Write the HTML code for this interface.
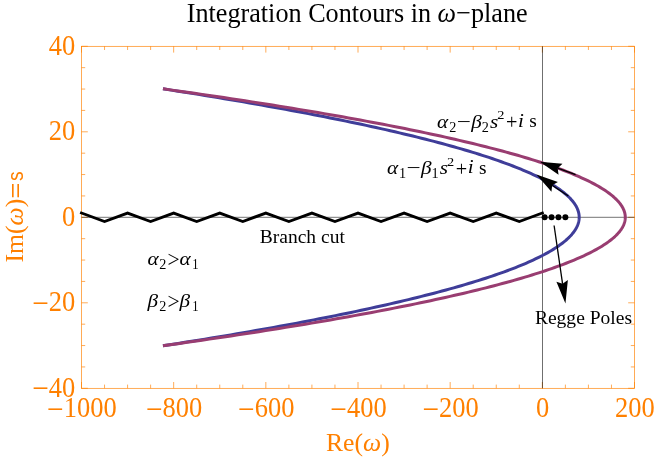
<!DOCTYPE html>
<html><head><meta charset="utf-8"><title>Integration Contours</title>
<style>
html,body{margin:0;padding:0;background:#fff;}
svg{display:block;font-family:"Liberation Serif",serif;will-change:transform;}
</style></head><body>
<svg width="654" height="457" viewBox="0 0 654 457">
<rect width="654" height="457" fill="#fff"/>
<rect x="81.5" y="46.3" width="553" height="342" fill="none" stroke="#ff8000" stroke-width="0.66"/>
<path d="M81.5 388.3v-6.3M81.5 46.3v6.3M104.54 388.3v-3.7M104.54 46.3v3.7M127.58 388.3v-3.7M127.58 46.3v3.7M150.62 388.3v-3.7M150.62 46.3v3.7M173.67 388.3v-6.3M173.67 46.3v6.3M196.71 388.3v-3.7M196.71 46.3v3.7M219.75 388.3v-3.7M219.75 46.3v3.7M242.79 388.3v-3.7M242.79 46.3v3.7M265.83 388.3v-6.3M265.83 46.3v6.3M288.88 388.3v-3.7M288.88 46.3v3.7M311.92 388.3v-3.7M311.92 46.3v3.7M334.96 388.3v-3.7M334.96 46.3v3.7M358 388.3v-6.3M358 46.3v6.3M381.04 388.3v-3.7M381.04 46.3v3.7M404.08 388.3v-3.7M404.08 46.3v3.7M427.12 388.3v-3.7M427.12 46.3v3.7M450.17 388.3v-6.3M450.17 46.3v6.3M473.21 388.3v-3.7M473.21 46.3v3.7M496.25 388.3v-3.7M496.25 46.3v3.7M519.29 388.3v-3.7M519.29 46.3v3.7M542.33 388.3v-6.3M542.33 46.3v6.3M565.38 388.3v-3.7M565.38 46.3v3.7M588.42 388.3v-3.7M588.42 46.3v3.7M611.46 388.3v-3.7M611.46 46.3v3.7M634.5 388.3v-6.3M634.5 46.3v6.3M81.5 388.3h6.3M634.5 388.3h-6.3M81.5 366.93h3.7M634.5 366.93h-3.7M81.5 345.55h3.7M634.5 345.55h-3.7M81.5 324.18h3.7M634.5 324.18h-3.7M81.5 302.8h6.3M634.5 302.8h-6.3M81.5 281.43h3.7M634.5 281.43h-3.7M81.5 260.05h3.7M634.5 260.05h-3.7M81.5 238.68h3.7M634.5 238.68h-3.7M81.5 217.3h6.3M634.5 217.3h-6.3M81.5 195.93h3.7M634.5 195.93h-3.7M81.5 174.55h3.7M634.5 174.55h-3.7M81.5 153.18h3.7M634.5 153.18h-3.7M81.5 131.8h6.3M634.5 131.8h-6.3M81.5 110.42h3.7M634.5 110.42h-3.7M81.5 89.05h3.7M634.5 89.05h-3.7M81.5 67.67h3.7M634.5 67.67h-3.7M81.5 46.3h6.3M634.5 46.3h-6.3" fill="none" stroke="#ff8000" stroke-width="0.66"/>
<line x1="81.5" y1="217.3" x2="634.5" y2="217.3" stroke="#000" stroke-width="0.55"/>
<line x1="542.5" y1="46.3" x2="542.5" y2="388.3" stroke="#000" stroke-width="0.57"/>
<path d="M164.45 345.55 L171.33 344.48 L178.16 343.41 L184.93 342.34 L191.64 341.28 L198.29 340.21 L204.89 339.14 L211.43 338.07 L217.91 337 L224.33 335.93 L230.69 334.86 L237 333.79 L243.25 332.73 L249.44 331.66 L255.58 330.59 L261.66 329.52 L267.68 328.45 L273.64 327.38 L279.54 326.31 L285.39 325.24 L291.18 324.18 L296.91 323.11 L302.58 322.04 L308.2 320.97 L313.76 319.9 L319.26 318.83 L324.7 317.76 L330.09 316.69 L335.42 315.62 L340.69 314.56 L345.9 313.49 L351.06 312.42 L356.16 311.35 L361.2 310.28 L366.18 309.21 L371.1 308.14 L375.97 307.07 L380.78 306.01 L385.53 304.94 L390.23 303.87 L394.87 302.8 L399.45 301.73 L403.97 300.66 L408.43 299.59 L412.84 298.53 L417.19 297.46 L421.48 296.39 L425.71 295.32 L429.89 294.25 L434.01 293.18 L438.07 292.11 L442.07 291.04 L446.02 289.98 L449.91 288.91 L453.74 287.84 L457.51 286.77 L461.23 285.7 L464.88 284.63 L468.48 283.56 L472.03 282.49 L475.51 281.43 L478.94 280.36 L482.31 279.29 L485.62 278.22 L488.88 277.15 L492.07 276.08 L495.21 275.01 L498.29 273.94 L501.32 272.88 L504.29 271.81 L507.19 270.74 L510.05 269.67 L512.84 268.6 L515.58 267.53 L518.25 266.46 L520.88 265.39 L523.44 264.32 L525.94 263.26 L528.39 262.19 L530.78 261.12 L533.12 260.05 L535.39 258.98 L537.61 257.91 L539.77 256.84 L541.87 255.78 L543.92 254.71 L545.9 253.64 L547.83 252.57 L549.71 251.5 L551.52 250.43 L553.28 249.36 L554.98 248.29 L556.62 247.23 L558.2 246.16 L559.73 245.09 L561.2 244.02 L562.61 242.95 L563.96 241.88 L565.26 240.81 L566.5 239.74 L567.68 238.68 L568.8 237.61 L569.87 236.54 L570.88 235.47 L571.83 234.4 L572.72 233.33 L573.55 232.26 L574.33 231.19 L575.05 230.12 L575.71 229.06 L576.32 227.99 L576.87 226.92 L577.36 225.85 L577.79 224.78 L578.16 223.71 L578.48 222.64 L578.74 221.57 L578.94 220.51 L579.08 219.44 L579.17 218.37 L579.2 217.3 L579.17 216.23 L579.08 215.16 L578.94 214.09 L578.74 213.02 L578.48 211.96 L578.16 210.89 L577.79 209.82 L577.36 208.75 L576.87 207.68 L576.32 206.61 L575.71 205.54 L575.05 204.48 L574.33 203.41 L573.55 202.34 L572.72 201.27 L571.83 200.2 L570.88 199.13 L569.87 198.06 L568.8 196.99 L567.68 195.93 L566.5 194.86 L565.26 193.79 L563.96 192.72 L562.61 191.65 L561.2 190.58 L559.73 189.51 L558.2 188.44 L556.62 187.38 L554.98 186.31 L553.28 185.24 L551.52 184.17 L549.71 183.1 L547.83 182.03 L545.9 180.96 L543.92 179.89 L541.87 178.82 L539.77 177.76 L537.61 176.69 L535.39 175.62 L533.12 174.55 L530.78 173.48 L528.39 172.41 L525.94 171.34 L523.44 170.27 L520.88 169.21 L518.25 168.14 L515.58 167.07 L512.84 166 L510.05 164.93 L507.19 163.86 L504.29 162.79 L501.32 161.73 L498.29 160.66 L495.21 159.59 L492.07 158.52 L488.88 157.45 L485.62 156.38 L482.31 155.31 L478.94 154.24 L475.51 153.18 L472.03 152.11 L468.48 151.04 L464.88 149.97 L461.23 148.9 L457.51 147.83 L453.74 146.76 L449.91 145.69 L446.02 144.62 L442.07 143.56 L438.07 142.49 L434.01 141.42 L429.89 140.35 L425.71 139.28 L421.48 138.21 L417.19 137.14 L412.84 136.07 L408.43 135.01 L403.97 133.94 L399.45 132.87 L394.87 131.8 L390.23 130.73 L385.53 129.66 L380.78 128.59 L375.97 127.52 L371.1 126.46 L366.18 125.39 L361.2 124.32 L356.16 123.25 L351.06 122.18 L345.9 121.11 L340.69 120.04 L335.42 118.97 L330.09 117.91 L324.7 116.84 L319.26 115.77 L313.76 114.7 L308.2 113.63 L302.58 112.56 L296.91 111.49 L291.18 110.42 L285.39 109.36 L279.54 108.29 L273.64 107.22 L267.68 106.15 L261.66 105.08 L255.58 104.01 L249.44 102.94 L243.25 101.88 L237 100.81 L230.69 99.74 L224.33 98.67 L217.91 97.6 L211.43 96.53 L204.89 95.46 L198.29 94.39 L191.64 93.33 L184.93 92.26 L178.16 91.19 L171.33 90.12 L164.45 89.05" fill="none" stroke="#3f3d99" stroke-width="3.0" stroke-linejoin="round" stroke-linecap="square"/>
<path d="M164.45 345.55 L172.1 344.48 L179.68 343.41 L187.2 342.34 L194.66 341.28 L202.05 340.21 L209.38 339.14 L216.65 338.07 L223.85 337 L230.98 335.93 L238.06 334.86 L245.06 333.79 L252.01 332.73 L258.89 331.66 L265.71 330.59 L272.46 329.52 L279.15 328.45 L285.77 327.38 L292.33 326.31 L298.83 325.24 L305.26 324.18 L311.63 323.11 L317.93 322.04 L324.17 320.97 L330.35 319.9 L336.46 318.83 L342.51 317.76 L348.5 316.69 L354.42 315.62 L360.27 314.56 L366.06 313.49 L371.79 312.42 L377.46 311.35 L383.06 310.28 L388.59 309.21 L394.07 308.14 L399.47 307.07 L404.82 306.01 L410.1 304.94 L415.32 303.87 L420.47 302.8 L425.56 301.73 L430.58 300.66 L435.54 299.59 L440.44 298.53 L445.27 297.46 L450.04 296.39 L454.74 295.32 L459.38 294.25 L463.96 293.18 L468.47 292.11 L472.92 291.04 L477.3 289.98 L481.62 288.91 L485.88 287.84 L490.07 286.77 L494.2 285.7 L498.27 284.63 L502.27 283.56 L506.2 282.49 L510.07 281.43 L513.88 280.36 L517.63 279.29 L521.31 278.22 L524.92 277.15 L528.48 276.08 L531.96 275.01 L535.39 273.94 L538.75 272.88 L542.05 271.81 L545.28 270.74 L548.45 269.67 L551.55 268.6 L554.59 267.53 L557.57 266.46 L560.48 265.39 L563.33 264.32 L566.11 263.26 L568.83 262.19 L571.49 261.12 L574.08 260.05 L576.61 258.98 L579.07 257.91 L581.47 256.84 L583.81 255.78 L586.08 254.71 L588.29 253.64 L590.43 252.57 L592.51 251.5 L594.53 250.43 L596.48 249.36 L598.37 248.29 L600.19 247.23 L601.95 246.16 L603.65 245.09 L605.28 244.02 L606.85 242.95 L608.35 241.88 L609.79 240.81 L611.17 239.74 L612.48 238.68 L613.73 237.61 L614.91 236.54 L616.03 235.47 L617.09 234.4 L618.08 233.33 L619.01 232.26 L619.87 231.19 L620.67 230.12 L621.41 229.06 L622.08 227.99 L622.69 226.92 L623.24 225.85 L623.72 224.78 L624.13 223.71 L624.48 222.64 L624.77 221.57 L625 220.51 L625.16 219.44 L625.25 218.37 L625.28 217.3 L625.25 216.23 L625.16 215.16 L625 214.09 L624.77 213.02 L624.48 211.96 L624.13 210.89 L623.72 209.82 L623.24 208.75 L622.69 207.68 L622.08 206.61 L621.41 205.54 L620.67 204.48 L619.87 203.41 L619.01 202.34 L618.08 201.27 L617.09 200.2 L616.03 199.13 L614.91 198.06 L613.73 196.99 L612.48 195.93 L611.17 194.86 L609.79 193.79 L608.35 192.72 L606.85 191.65 L605.28 190.58 L603.65 189.51 L601.95 188.44 L600.19 187.38 L598.37 186.31 L596.48 185.24 L594.53 184.17 L592.51 183.1 L590.43 182.03 L588.29 180.96 L586.08 179.89 L583.81 178.82 L581.47 177.76 L579.07 176.69 L576.61 175.62 L574.08 174.55 L571.49 173.48 L568.83 172.41 L566.11 171.34 L563.33 170.27 L560.48 169.21 L557.57 168.14 L554.59 167.07 L551.55 166 L548.45 164.93 L545.28 163.86 L542.05 162.79 L538.75 161.73 L535.39 160.66 L531.96 159.59 L528.48 158.52 L524.92 157.45 L521.31 156.38 L517.63 155.31 L513.88 154.24 L510.07 153.18 L506.2 152.11 L502.27 151.04 L498.27 149.97 L494.2 148.9 L490.07 147.83 L485.88 146.76 L481.62 145.69 L477.3 144.62 L472.92 143.56 L468.47 142.49 L463.96 141.42 L459.38 140.35 L454.74 139.28 L450.04 138.21 L445.27 137.14 L440.44 136.07 L435.54 135.01 L430.58 133.94 L425.56 132.87 L420.47 131.8 L415.32 130.73 L410.1 129.66 L404.82 128.59 L399.47 127.52 L394.07 126.46 L388.59 125.39 L383.06 124.32 L377.46 123.25 L371.79 122.18 L366.06 121.11 L360.27 120.04 L354.42 118.97 L348.5 117.91 L342.51 116.84 L336.46 115.77 L330.35 114.7 L324.17 113.63 L317.93 112.56 L311.63 111.49 L305.26 110.42 L298.83 109.36 L292.33 108.29 L285.77 107.22 L279.15 106.15 L272.46 105.08 L265.71 104.01 L258.89 102.94 L252.01 101.88 L245.06 100.81 L238.06 99.74 L230.98 98.67 L223.85 97.6 L216.65 96.53 L209.38 95.46 L202.05 94.39 L194.66 93.33 L187.2 92.26 L179.68 91.19 L172.1 90.12 L164.45 89.05" fill="none" stroke="#993d71" stroke-width="3.0" stroke-linejoin="round" stroke-linecap="square"/>
<path d="M81.5 213.02 L104.54 221.57 L127.58 213.02 L150.62 221.57 L173.67 213.02 L196.71 221.57 L219.75 213.02 L242.79 221.57 L265.83 213.02 L288.88 221.57 L311.92 213.02 L334.96 221.57 L358 213.02 L381.04 221.57 L404.08 213.02 L427.12 221.57 L450.17 213.02 L473.21 221.57 L496.25 213.02 L519.29 221.57 L542.33 213.02" fill="none" stroke="#000" stroke-width="2.9" stroke-linejoin="miter" stroke-linecap="square"/>
<circle cx="544.64" cy="217.3" r="3.0" fill="#000"/>
<circle cx="551.55" cy="217.3" r="3.0" fill="#000"/>
<circle cx="558.46" cy="217.3" r="3.0" fill="#000"/>
<circle cx="565.38" cy="217.3" r="3.0" fill="#000"/>
<line x1="568.3" y1="196" x2="552.18" y2="185.18" stroke="#000" stroke-width="1.3"/><path d="M536.4 174.6 L557.9 182.04 L552.18 185.18 L551.44 191.67 Z" fill="#000"/>
<line x1="575.6" y1="174.6" x2="557.69" y2="168.2" stroke="#000" stroke-width="1.3"/><path d="M539.8 161.8 L562.47 163.75 L557.69 168.2 L558.56 174.67 Z" fill="#000"/>
<line x1="554.1" y1="225.5" x2="562.57" y2="283.81" stroke="#000" stroke-width="1.3"/><path d="M565.45 303.6 L556.4 281.67 L562.57 283.81 L567.88 280 Z" fill="#000"/>
<text transform="translate(81.8 417) scale(1 1.1)" font-size="26.5" fill="#ff8000" text-anchor="middle"><tspan font-size="29.5" dy="2.3">−</tspan><tspan dy="-2.3" dx="0.3">1000</tspan></text>
<text transform="translate(173.97 417) scale(1 1.1)" font-size="26.5" fill="#ff8000" text-anchor="middle"><tspan font-size="29.5" dy="2.3">−</tspan><tspan dy="-2.3" dx="0.3">800</tspan></text>
<text transform="translate(266.13 417) scale(1 1.1)" font-size="26.5" fill="#ff8000" text-anchor="middle"><tspan font-size="29.5" dy="2.3">−</tspan><tspan dy="-2.3" dx="0.3">600</tspan></text>
<text transform="translate(358.3 417) scale(1 1.1)" font-size="26.5" fill="#ff8000" text-anchor="middle"><tspan font-size="29.5" dy="2.3">−</tspan><tspan dy="-2.3" dx="0.3">400</tspan></text>
<text transform="translate(450.47 417) scale(1 1.1)" font-size="26.5" fill="#ff8000" text-anchor="middle"><tspan font-size="29.5" dy="2.3">−</tspan><tspan dy="-2.3" dx="0.3">200</tspan></text>
<text transform="translate(542.63 417) scale(1 1.1)" font-size="26.5" fill="#ff8000" text-anchor="middle">0</text>
<text transform="translate(634.8 417) scale(1 1.1)" font-size="26.5" fill="#ff8000" text-anchor="middle">200</text>
<text transform="translate(75.3 54.9) scale(1 1.1)" font-size="26.5" fill="#ff8000" text-anchor="end">40</text>
<text transform="translate(75.3 140.4) scale(1 1.1)" font-size="26.5" fill="#ff8000" text-anchor="end">20</text>
<text transform="translate(75.3 225.9) scale(1 1.1)" font-size="26.5" fill="#ff8000" text-anchor="end">0</text>
<text transform="translate(75.3 311.4) scale(1 1.1)" font-size="26.5" fill="#ff8000" text-anchor="end"><tspan font-size="29.5" dy="2.3">−</tspan><tspan dy="-2.3" dx="0.3">20</tspan></text>
<text transform="translate(75.3 396.9) scale(1 1.1)" font-size="26.5" fill="#ff8000" text-anchor="end"><tspan font-size="29.5" dy="2.3">−</tspan><tspan dy="-2.3" dx="0.3">40</tspan></text>
<text transform="translate(357.85 450.9) scale(1 1.0)" font-size="25.7" fill="#ff8000" text-anchor="middle">Re(<tspan font-style="italic">ω</tspan>)</text>
<text transform="translate(22.7 262.6) rotate(-90)" font-size="25.7" fill="#ff8000">Im(<tspan font-style="italic">ω</tspan>)</text>
<text transform="translate(23.3 198.6) rotate(-90) scale(1 0.79)" font-size="27" fill="#ff8000" font-family="Liberation Sans, sans-serif">=</text>
<text transform="translate(22.8 181.1) rotate(-90) scale(0.88 1)" font-size="22" fill="#ff8000" font-family="Liberation Sans, sans-serif">s</text>
<text transform="translate(186.7 22) scale(1 1.045)" font-size="26.2" fill="#000" text-anchor="start">Integration Contours in <tspan font-style="italic">ω</tspan>−plane</text>
<text transform="translate(259.8 242.5) scale(1 1)" font-size="19.5" fill="#000" text-anchor="start">Branch cut</text>
<text transform="translate(534.9 323.8) scale(1 1)" font-size="19.55" fill="#000" text-anchor="start">Regge Poles</text>
<g fill="#000"><text transform="translate(147.5 264.8) scale(1.1 1.0)" font-size="19.3" font-style="italic">α</text><text transform="translate(159.2 268.8) scale(1.0 1.0)" font-size="14.2">2</text><text transform="translate(167.5 266.7) scale(1.12 1.15)" font-size="19.3">&gt;</text><text transform="translate(179.6 264.8) scale(1.1 1.0)" font-size="19.3" font-style="italic">α</text><text transform="translate(192.2 268.8) scale(0.88 1.0)" font-size="14.2">1</text></g>
<g fill="#000"><text transform="translate(147.5 306.6) scale(1.1 1.0)" font-size="19.3" font-style="italic">β</text><text transform="translate(159.2 310.6) scale(1.0 1.0)" font-size="14.2">2</text><text transform="translate(167.5 308.5) scale(1.12 1.15)" font-size="19.3">&gt;</text><text transform="translate(179.6 306.6) scale(1.1 1.0)" font-size="19.3" font-style="italic">β</text><text transform="translate(192.2 310.6) scale(0.88 1.0)" font-size="14.2">1</text></g>
<g fill="#000"><text transform="translate(437.1 127.5) scale(1.1 1.0)" font-size="19.3" font-style="italic">α</text><text transform="translate(449.2 131.7) scale(1.0 1.0)" font-size="14.2">2</text><text transform="translate(456.7 127.5) scale(1.3 1.0)" font-size="19.3">−</text><text transform="translate(471.2 127.5) scale(1.1 1.0)" font-size="19.3" font-style="italic">β</text><text transform="translate(481.7 131.7) scale(1.0 1.0)" font-size="14.2">2</text><text transform="translate(489.9 127.5) scale(1.1 1.0)" font-size="19.3" font-style="italic">s</text><text transform="translate(497.3 119) scale(1.08 1.0)" font-size="13.3">2</text><text transform="translate(505.9 129.1) scale(1.05 1.1)" font-size="19.3">+</text><text transform="translate(518 126.6) scale(1.1 1.0)" font-size="19.3" font-style="italic">i</text><text transform="translate(529.3 127.2) scale(1.0 1.0)" font-size="19.3">s</text></g>
<g fill="#000"><text transform="translate(386.9 174) scale(1.1 1.0)" font-size="19.3" font-style="italic">α</text><text transform="translate(399 178.2) scale(1.0 1.0)" font-size="14.2">1</text><text transform="translate(406.5 174) scale(1.3 1.0)" font-size="19.3">−</text><text transform="translate(421 174) scale(1.1 1.0)" font-size="19.3" font-style="italic">β</text><text transform="translate(431.5 178.2) scale(1.0 1.0)" font-size="14.2">1</text><text transform="translate(439.7 174) scale(1.1 1.0)" font-size="19.3" font-style="italic">s</text><text transform="translate(447.1 165.5) scale(1.08 1.0)" font-size="13.3">2</text><text transform="translate(455.7 175.6) scale(1.05 1.1)" font-size="19.3">+</text><text transform="translate(467.8 173.1) scale(1.1 1.0)" font-size="19.3" font-style="italic">i</text><text transform="translate(479.1 173.7) scale(1.0 1.0)" font-size="19.3">s</text></g>
</svg>
</body></html>
